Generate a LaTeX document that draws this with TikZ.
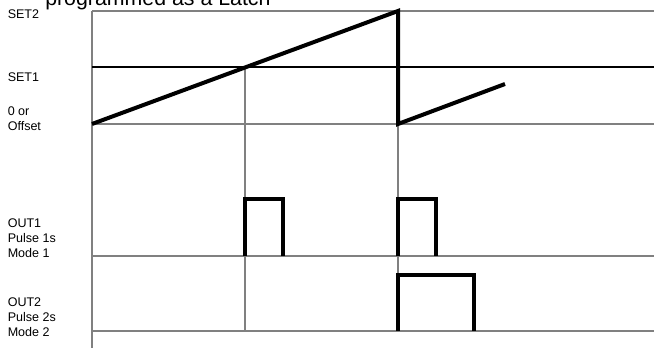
\documentclass[tikz,border=0pt]{standalone}
\usepackage{fontspec}
\setmainfont{Liberation Sans}
\usetikzlibrary{positioning}
\definecolor{levelgray}{HTML}{808080}

\begin{document}
\begin{tikzpicture}[x=0.75pt,y=-0.75pt,font=\fontsize{9.4}{11.25}\selectfont,
  level/.style={levelgray,line width=0.8pt},
  signal/.style={line width=3pt,line join=miter},
  lbl/.style={anchor=north west,inner sep=0pt,align=left}]
\useasboundingbox (0,0) rectangle (654,348);
% title, cut by the page edge
\node[anchor=base west,inner sep=0pt,font=\fontsize{16}{19}\selectfont] (title) at (45,6) {programmed as a Latch};
% time axis and levels
\draw[level] (92,11)--(92,348);
\foreach \y in {11,124,256,331} \draw[level] (92,\y)--(654,\y);
\draw[line width=0.8pt] (92,67)--(654,67);
\draw[level] (245,67)--(245,331);
\draw[level] (398,11)--(398,331);
% process value
\draw[signal] (92,124)--(398,11)--(398,124)--(505,84);
% outputs
\draw[signal] (245,256)|-(283,199)--(283,256);
\draw[signal] (398,256)|-(436,199)--(436,256);
\draw[signal] (398,331)|-(474,275)--(474,331);
% labels
\node[lbl] (set2) at (7.5,9) {SET2};
\node[lbl] (set1) at (7.5,72) {SET1};
\node[lbl] (zero) at (7.5,106) {0 or\\Offset};
\node[lbl] (outa) at (7.5,218) {OUT1\\Pulse 1s\\Mode 1};
\node[lbl] (outb) at (7.5,297) {OUT2\\Pulse 2s\\Mode 2};
\end{tikzpicture}
\end{document}
